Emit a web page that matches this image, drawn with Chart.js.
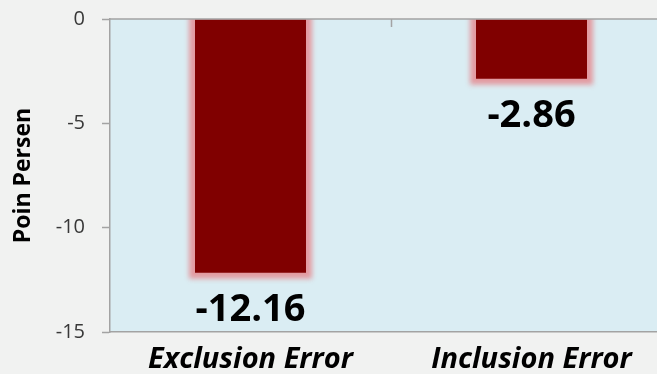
<!DOCTYPE html>
<html>
<head>
<meta charset="utf-8">
<script src="https://cdn.jsdelivr.net/npm/chart.js@4.4.1/dist/chart.umd.min.js"></script>
<style>
    html, body { margin: 0; padding: 0; background: #f1f2f1; overflow: hidden; }
    #wrap { width: 700px; height: 374px; }
</style>
</head>
<body>
<div id="wrap"><canvas id="errorChart"></canvas></div>
<script>
const categories = ['Exclusion Error', 'Inclusion Error'];
const errorValues = [-12.16, -2.86];
const yMin = -15;
const yMax = 0;
const yStep = 5;

const FONT = '"Open Sans", "DejaVu Sans", sans-serif';
const AXIS_GREY = '#a3a3a3';

// light blue fill behind the plot
const plotBackground = {
    id: 'plotBackground',
    beforeDraw(chart) {
        const { ctx, chartArea: a } = chart;
        ctx.save();
        ctx.fillStyle = '#daedf3';
        ctx.fillRect(a.left, a.top, a.right - a.left, a.bottom - a.top);
        ctx.restore();
    }
};

// soft pink glow around each bar
const barGlow = {
    id: 'barGlow',
    beforeDatasetsDraw(chart) {
        const { ctx, chartArea: a } = chart;
        ctx.save();
        ctx.beginPath();
        ctx.rect(a.left, a.top, a.right - a.left, a.bottom - a.top);
        ctx.clip();
        ctx.filter = 'blur(2.5px)';
        ctx.fillStyle = 'rgba(228, 140, 146, 0.85)';
        chart.getDatasetMeta(0).data.forEach(bar => {
            const { x, y, base, width } = bar.getProps(['x', 'y', 'base', 'width'], true);
            const top = Math.min(y, base), h = Math.abs(base - y);
            ctx.fillRect(x - width / 2 - 6, top - 6, width + 12, h + 12);
        });
        ctx.restore();
    }
};

// value printed under the end of each bar
const valueLabels = {
    id: 'valueLabels',
    afterDatasetsDraw(chart) {
        const { ctx } = chart;
        ctx.save();
        ctx.font = 'bold 38px ' + FONT;
        ctx.fillStyle = '#000';
        ctx.textAlign = 'center';
        ctx.textBaseline = 'middle';
        chart.getDatasetMeta(0).data.forEach((bar, i) => {
            ctx.fillText(errorValues[i].toFixed(2), bar.x, bar.y + 37);
        });
        ctx.restore();
    }
};

// zero line along the top with small ticks between categories
const zeroAxis = {
    id: 'zeroAxis',
    afterDraw(chart) {
        const { ctx, chartArea: a, scales: { x, y } } = chart;
        const y0 = y.getPixelForValue(0);
        ctx.save();
        ctx.strokeStyle = AXIS_GREY;
        ctx.lineWidth = 1.5;
        ctx.beginPath();
        ctx.moveTo(a.left, y0);
        ctx.lineTo(a.right, y0);
        for (let i = 0; i < categories.length - 1; i++) {
            const xb = Math.round((x.getPixelForValue(i) + x.getPixelForValue(i + 1)) / 2) + 0.5;
            ctx.moveTo(xb, y0);
            ctx.lineTo(xb, y0 + 8);
        }
        ctx.stroke();
        ctx.restore();
    }
};

new Chart(document.getElementById('errorChart'), {
    type: 'bar',
    data: {
        labels: categories,
        datasets: [{
            data: errorValues,
            backgroundColor: '#800000',
            borderWidth: 0,
            barPercentage: 0.395,
            categoryPercentage: 1.0
        }]
    },
    options: {
        responsive: true,
        maintainAspectRatio: false,
        animation: false,
        layout: { padding: { top: 19, right: 28, bottom: 0, left: 0 } },
        plugins: {
            legend: { display: false },
            tooltip: { enabled: false }
        },
        scales: {
            x: {
                grid: { display: false },
                border: { display: true, color: AXIS_GREY, width: 1.5 },
                ticks: {
                    color: '#000',
                    padding: 2,
                    font: { family: FONT, size: 29, weight: 'bold', style: 'italic' }
                },
                afterFit(scale) {
                    scale.height = 42;
                    scale.paddingLeft = 0;
                    scale.paddingRight = 0;
                }
            },
            y: {
                min: yMin,
                max: yMax,
                afterFit(scale) {
                    scale.width = 110;
                    scale.paddingTop = 0;
                    scale.paddingBottom = 0;
                },
                grid: {
                    drawOnChartArea: false,
                    tickLength: 8,
                    tickColor: AXIS_GREY,
                    tickWidth: 1.5
                },
                border: { display: true, color: AXIS_GREY, width: 1.5 },
                ticks: {
                    stepSize: yStep,
                    padding: 17,
                    color: '#383838',
                    font: { family: FONT, size: 20 }
                },
                title: {
                    display: true,
                    text: 'Poin Persen',
                    color: '#000',
                    padding: { top: 10, bottom: 0 },
                    font: { family: FONT, size: 23, weight: 'bold' }
                }
            }
        }
    },
    plugins: [plotBackground, barGlow, valueLabels, zeroAxis]
});
</script>
</body>
</html>
